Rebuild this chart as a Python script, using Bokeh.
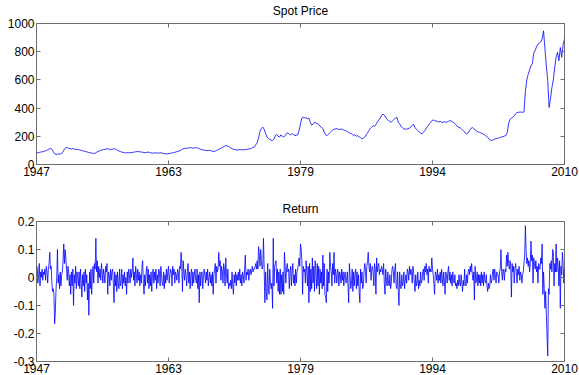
from bokeh.plotting import figure
from bokeh.layouts import column
from bokeh.models import Range1d, FixedTicker, LinearAxis
from bokeh.embed import file_html
from bokeh.resources import INLINE

start_year = 1947
end_year = 2010
x_tick_labels = ["1947", "1963", "1979", "1994", "2010"]
price_yticks = [0, 200, 400, 600, 800, 1000]
price_ylabels = ["0", "200", "400", "600", "800", "1000"]
return_yticks = [-0.3, -0.2, -0.1, 0, 0.1, 0.2]
return_ylabels = ["-0.3", "-0.2", "-0.1", "0", "0.1", "0.2"]

# spot price, every two months (Jan, Mar, May, Jul, Sep, Nov), 1947 .. 2010
price = [
    80, 84, 86, 88, 90, 92,          # 1947
    95, 100, 104, 110, 114, 108,     # 1948
    92, 76, 72, 74, 73, 75,          # 1949
    78, 90, 110, 118, 121, 116,      # 1950
    112, 110, 113, 110, 107, 108,    # 1951
    106, 103, 100, 98, 95, 92,       # 1952
    90, 86, 84, 82, 80, 78,          # 1953
    80, 86, 92, 96, 100, 104,        # 1954
    106, 108, 110, 112, 108, 105,    # 1955
    108, 110, 112, 106, 100, 96,     # 1956
    92, 88, 86, 84, 82, 84,          # 1957
    83, 85, 84, 86, 88, 90,          # 1958
    91, 92, 90, 88, 87, 85,          # 1959
    84, 86, 88, 85, 82, 80,          # 1960
    81, 83, 82, 80, 82, 84,          # 1961
    80, 78, 76, 75, 77, 78,          # 1962
    80, 82, 84, 86, 90, 92,          # 1963
    95, 100, 106, 112, 114, 116,     # 1964
    114, 117, 120, 118, 116, 118,    # 1965
    120, 118, 114, 110, 106, 104,    # 1966
    102, 100, 98, 99, 100, 97,       # 1967
    94, 92, 95, 100, 105, 110,       # 1968
    115, 120, 126, 132, 134, 130,    # 1969
    125, 118, 112, 108, 106, 104,    # 1970
    103, 105, 104, 106, 104, 105,    # 1971
    106, 108, 110, 112, 116, 120,    # 1972
    125, 140, 155, 190, 235, 255,    # 1973
    265, 250, 220, 195, 185, 178,    # 1974
    172, 170, 180, 205, 215, 200,    # 1975
    195, 210, 200, 195, 205, 220,    # 1976
    225, 215, 210, 220, 212, 205,    # 1977
    208, 210, 240, 290, 330, 335,    # 1978
    332, 330, 325, 330, 300, 280,    # 1979
    285, 300, 295, 290, 285, 270,    # 1980
    265, 255, 230, 210, 205, 215,    # 1981
    225, 235, 245, 250, 252, 255,    # 1982
    250, 248, 252, 250, 245, 240,    # 1983
    238, 230, 225, 220, 215, 205,    # 1984
    212, 200, 205, 195, 190, 182,    # 1985
    185, 195, 210, 225, 240, 255,    # 1986
    265, 275, 270, 285, 300, 315,    # 1987
    330, 345, 358, 350, 335, 320,    # 1988
    312, 305, 300, 310, 320, 330,    # 1989
    335, 300, 288, 270, 260, 252,    # 1990
    252, 250, 255, 258, 265, 278,    # 1991
    283, 262, 250, 240, 230, 222,    # 1992
    217, 228, 240, 255, 270, 285,    # 1993
    297, 310, 316, 312, 308, 305,    # 1994
    302, 306, 300, 298, 304, 300,    # 1995
    302, 306, 311, 308, 300, 295,    # 1996
    285, 272, 265, 262, 255, 245,    # 1997
    235, 222, 217, 225, 240, 255,    # 1998
    262, 255, 245, 238, 232, 228,    # 1999
    225, 220, 215, 210, 200, 193,    # 2000
    180, 172, 170, 176, 180, 183,    # 2001
    186, 188, 192, 195, 198, 202,    # 2002
    205, 225, 290, 320, 328, 335,    # 2003
    345, 360, 368, 370, 372, 372,    # 2004
    370, 372, 520, 600, 640, 670,    # 2005
    700, 715, 790, 810, 835, 854,    # 2006
    860, 870, 890, 948, 820, 700,    # 2007
    594, 405, 470, 547, 600, 689,    # 2008
    760, 795, 736, 830, 760, 850,    # 2009
    889,                             # 2010
]

# monthly return, Feb 1947 .. Jan 2010
returns = [
    0.04, -0.02, 0.01, 0.05, -0.03, 0.02, 0.0, 0.03, -0.01, 0.02, 0.01, 0.03,        # 1947
    -0.01, 0.04, 0.02, -0.02, 0.03, 0.05, 0.09, 0.03, 0.04, -0.02, -0.05, -0.04,     # 1948
    -0.06, -0.165, -0.12, -0.04, 0.0, 0.10, -0.02, 0.01, -0.04, 0.02, -0.03, 0.01,   # 1949
    0.02, 0.06, 0.12, 0.05, 0.10, 0.07, 0.03, -0.01, 0.04, 0.02, -0.03, 0.01,        # 1950
    -0.06, 0.02, -0.03, 0.03, -0.10, 0.01, -0.02, 0.04, -0.04, 0.02, 0.0, -0.03,     # 1951
    0.02, -0.04, 0.03, -0.02, -0.07, 0.01, -0.03, 0.02, -0.05, 0.03, -0.02, 0.01,    # 1952
    -0.08, -0.02, -0.135, 0.02, -0.04, 0.03, -0.06, 0.01, 0.04, -0.02, 0.05, 0.03,   # 1953
    0.14, 0.02, 0.06, -0.02, 0.04, 0.0, 0.03, -0.01, 0.05, 0.02, -0.02, 0.03,        # 1954
    0.01, -0.02, 0.04, 0.02, 0.05, -0.06, 0.02, 0.01, -0.03, 0.03, -0.01, 0.02,      # 1955
    0.03, -0.02, -0.09, 0.02, -0.03, 0.01, -0.05, 0.02, -0.02, -0.04, 0.03, -0.03,   # 1956
    -0.02, 0.03, -0.04, 0.01, -0.02, 0.02, -0.03, 0.0, -0.06, 0.02, -0.02, 0.03,     # 1957
    0.01, -0.02, 0.03, 0.0, 0.02, 0.07, -0.01, 0.02, -0.03, 0.04, 0.01, -0.02,       # 1958
    0.03, -0.01, 0.02, -0.03, 0.01, -0.02, 0.04, 0.06, -0.02, -0.06, 0.01, -0.03,    # 1959
    0.02, 0.04, -0.02, 0.03, -0.04, 0.01, -0.03, 0.02, -0.05, 0.01, 0.03, -0.02,     # 1960
    0.02, -0.01, 0.03, -0.04, 0.01, -0.02, 0.03, 0.02, -0.03, 0.04, 0.01, -0.02,     # 1961
    -0.03, 0.02, -0.04, 0.01, -0.02, 0.03, -0.01, 0.02, 0.04, -0.02, 0.01, 0.03,     # 1962
    0.02, -0.03, 0.04, 0.01, 0.03, -0.02, 0.02, 0.01, -0.01, 0.03, 0.02, -0.02,      # 1963
    0.04, 0.03, 0.09, 0.05, -0.05, 0.06, 0.02, -0.01, 0.03, 0.01, -0.03, 0.02,       # 1964
    0.05, -0.02, 0.02, -0.04, 0.01, 0.03, -0.03, 0.02, -0.02, 0.01, 0.03, -0.01,     # 1965
    -0.02, 0.03, -0.04, 0.01, -0.09, 0.02, -0.03, 0.01, 0.02, -0.04, 0.0, 0.03,      # 1966
    0.01, -0.02, 0.02, -0.01, 0.03, -0.03, 0.0, 0.02, -0.02, 0.01, -0.03, 0.02,      # 1967
    -0.06, 0.01, 0.03, 0.05, -0.02, 0.04, 0.02, 0.03, 0.09, 0.04, 0.06, -0.01,       # 1968
    0.04, 0.02, -0.02, 0.05, 0.03, -0.03, 0.07, 0.01, -0.02, 0.03, -0.04, -0.02,     # 1969
    -0.03, -0.01, -0.04, 0.02, -0.03, -0.06, 0.01, -0.02, 0.02, -0.03, 0.01, -0.01,  # 1970
    0.02, -0.01, 0.03, -0.02, 0.01, -0.03, 0.02, 0.01, -0.02, 0.03, 0.08, -0.01,     # 1971
    0.02, 0.01, 0.03, -0.01, 0.02, 0.03, 0.01, 0.02, 0.04, 0.02, 0.03, 0.03,         # 1972
    0.04, 0.05, 0.03, 0.06, 0.03, 0.11, 0.08, 0.04, 0.10, 0.06, 0.03, 0.04,          # 1973
    0.14, 0.03, -0.09, 0.02, -0.05, -0.08, 0.05, -0.04, -0.06, 0.03, -0.02, -0.04,   # 1974
    -0.02, -0.11, 0.14, -0.03, 0.04, 0.05, 0.06, -0.02, 0.03, -0.05, 0.02, -0.06,    # 1975
    0.03, -0.06, 0.01, -0.05, 0.02, -0.06, 0.09, 0.04, -0.02, 0.03, 0.05, 0.02,      # 1976
    0.03, -0.04, 0.02, 0.04, -0.03, 0.02, 0.05, -0.02, 0.01, -0.03, 0.03, -0.02,     # 1977
    0.02, 0.03, 0.05, 0.07, 0.04, 0.12, 0.10, 0.06, -0.06, 0.04, 0.02, 0.03,         # 1978
    -0.02, 0.06, 0.02, -0.03, 0.04, -0.09, 0.05, -0.05, 0.03, -0.04, 0.07, -0.02,    # 1979
    0.04, -0.05, 0.06, 0.02, -0.04, 0.05, -0.03, 0.04, -0.06, 0.03, -0.02, 0.02,     # 1980
    -0.04, 0.08, -0.03, 0.05, -0.06, -0.07, -0.09, 0.03, -0.05, 0.02, -0.02, 0.09,   # 1981
    0.04, 0.02, -0.03, 0.05, 0.01, 0.09, -0.02, 0.03, 0.01, -0.02, 0.03, 0.02,       # 1982
    -0.03, 0.02, 0.01, -0.02, 0.03, -0.01, 0.02, -0.03, 0.01, 0.02, -0.02, -0.01,    # 1983
    0.02, -0.03, -0.09, 0.05, 0.01, -0.04, -0.02, 0.03, -0.05, 0.02, -0.03, 0.01,    # 1984
    0.03, -0.04, 0.02, -0.03, 0.01, -0.05, -0.09, 0.03, -0.02, 0.02, -0.04, -0.03,   # 1985
    0.02, 0.05, 0.03, -0.02, 0.04, 0.06, 0.09, 0.04, 0.02, 0.05, -0.01, 0.03,        # 1986
    0.04, 0.02, -0.03, 0.05, 0.03, -0.06, 0.07, 0.02, 0.04, 0.05, 0.01, 0.03,        # 1987
    0.02, 0.04, 0.03, 0.01, 0.05, -0.02, -0.06, 0.03, -0.01, -0.03, 0.02, -0.02,     # 1988
    -0.03, 0.01, -0.04, -0.02, 0.03, 0.04, 0.02, -0.02, 0.03, 0.05, -0.03, -0.04,    # 1989
    0.02, -0.05, -0.10, 0.02, -0.03, -0.04, 0.01, -0.03, -0.02, 0.02, -0.04, -0.01,  # 1990
    0.01, -0.02, 0.03, 0.02, -0.01, 0.04, 0.01, 0.03, 0.02, -0.02, 0.04, 0.02,       # 1991
    -0.02, -0.05, 0.01, -0.03, -0.02, 0.02, -0.04, -0.01, -0.03, 0.02, -0.02, -0.01, # 1992
    0.02, 0.03, -0.01, 0.04, 0.02, 0.05, 0.01, 0.03, -0.02, 0.04, 0.02, 0.03,        # 1993
    0.02, 0.07, 0.03, 0.01, -0.02, -0.06, 0.02, 0.01, -0.01, 0.03, -0.02, 0.01,      # 1994
    -0.01, 0.02, -0.02, 0.03, 0.0, -0.03, 0.02, -0.01, -0.06, 0.02, 0.01, -0.02,     # 1995
    0.02, 0.04, -0.01, 0.02, -0.02, 0.01, -0.03, 0.02, -0.01, -0.02, 0.01, -0.03,    # 1996
    -0.02, -0.04, -0.01, -0.03, 0.01, -0.02, -0.03, 0.01, -0.02, -0.05, -0.01, -0.03,# 1997
    0.03, -0.02, -0.03, 0.01, -0.02, 0.02, 0.03, 0.01, 0.04, 0.02, 0.05, 0.01,       # 1998
    -0.01, 0.02, -0.08, 0.04, -0.02, -0.01, 0.02, -0.03, 0.01, -0.02, 0.01, -0.03,   # 1999
    0.02, -0.02, 0.01, -0.03, 0.02, -0.01, -0.02, 0.01, -0.03, -0.05, -0.02, -0.04,  # 2000
    -0.03, 0.01, -0.02, -0.01, 0.02, 0.03, -0.01, 0.03, 0.01, -0.02, 0.02, 0.01,     # 2001
    0.01, -0.02, 0.02, 0.03, 0.10, 0.02, -0.01, 0.03, 0.02, -0.01, 0.03, 0.02,       # 2002
    0.08, 0.04, 0.09, 0.05, 0.03, 0.06, 0.04, -0.07, 0.05, 0.02, 0.04, -0.02,        # 2003
    0.03, 0.05, 0.02, -0.02, 0.03, 0.01, 0.04, -0.01, 0.02, 0.01, -0.02, 0.01,       # 2004
    0.02, 0.05, 0.08, 0.185, 0.10, 0.05, 0.07, 0.04, 0.06, 0.02, 0.05, 0.13,         # 2005
    0.06, 0.08, -0.02, 0.07, 0.05, 0.03, 0.06, 0.02, 0.04, -0.02, 0.05, 0.03,        # 2006
    0.03, 0.07, 0.05, 0.12, -0.06, 0.02, -0.04, -0.11, -0.05, -0.13, -0.21, -0.28,   # 2007
    -0.04, -0.06, 0.05, 0.03, 0.06, 0.02, 0.10, 0.09, -0.03, 0.05, 0.02, 0.12,       # 2008
    0.02, 0.07, 0.04, -0.03, 0.06, -0.11, 0.04, 0.01, 0.09, 0.05, -0.02, 0.03,       # 2009
]

FONT = "Liberation Sans"
FRAME = "#6e6e6e"
LINE = "#0000ff"

price_t = [start_year + i / 6 for i in range(len(price))]
ret_t = [start_year + (i + 1) / 12 for i in range(len(returns))]


def clean(v):
    return int(v) if float(v).is_integer() else v


x_ticks = [clean(start_year + k * (end_year - start_year) / 4) for k in range(5)]
x_over = {t: lab for t, lab in zip(x_ticks, x_tick_labels)}


def labelled_axis(ticks, over):
    a = LinearAxis(ticker=FixedTicker(ticks=ticks))
    a.major_label_overrides = over
    a.axis_line_color = None
    a.major_tick_line_color = FRAME
    a.major_tick_in = 4
    a.major_tick_out = 0
    a.minor_tick_line_color = None
    a.major_label_text_font = FONT
    a.major_label_text_font_size = "12px"
    a.major_label_text_color = "black"
    a.major_label_standoff = 2
    return a


def mirror_axis(ticks):
    # ticks only (drawn as minor ticks, so no labels at all)
    a = LinearAxis(ticker=FixedTicker(ticks=[], minor_ticks=ticks))
    a.axis_line_color = None
    a.major_tick_line_color = None
    a.major_tick_in = 0
    a.major_tick_out = 0
    a.minor_tick_line_color = FRAME
    a.minor_tick_in = 4
    a.minor_tick_out = 0
    a.major_label_standoff = 0
    return a


def panel(title, ys, ylabels, ymin, ymax, height, top, bottom):
    p = figure(width=579, height=height, output_backend="svg", toolbar_location=None,
               x_range=Range1d(start_year, end_year), y_range=Range1d(ymin, ymax),
               x_axis_type=None, y_axis_type=None,
               min_border_left=36, min_border_right=15,
               min_border_top=top, min_border_bottom=bottom)
    p.outline_line_color = FRAME
    p.outline_line_width = 1
    p.background_fill_color = "white"
    p.border_fill_color = "white"
    yt = [clean(t) for t in ys]
    y_over = {t: lab for t, lab in zip(yt, ylabels)}
    p.add_layout(labelled_axis(x_ticks, x_over), "below")
    p.add_layout(mirror_axis(x_ticks), "above")
    p.add_layout(labelled_axis(yt, y_over), "left")
    p.add_layout(mirror_axis(yt), "right")
    p.title.text = title
    p.title.align = "center"
    p.title.vertical_align = "top"
    p.title.standoff = 7
    p.title.text_font = FONT
    p.title.text_font_size = "12px"
    p.title.text_font_style = "normal"
    p.title.text_color = "black"
    return p


p1 = panel("Spot Price", price_yticks, price_ylabels, 0, 1000, 189, 23, 25)
p1.line(price_t, price, line_color=LINE, line_width=0.8)

p2 = panel("Return", return_yticks, return_ylabels, -0.3, 0.2, 186, 32, 14)
p2.line(ret_t, returns, line_color=LINE, line_width=0.8)

layout = column(p1, p2, spacing=0)
open("out.html", "w").write(file_html(layout, INLINE))
